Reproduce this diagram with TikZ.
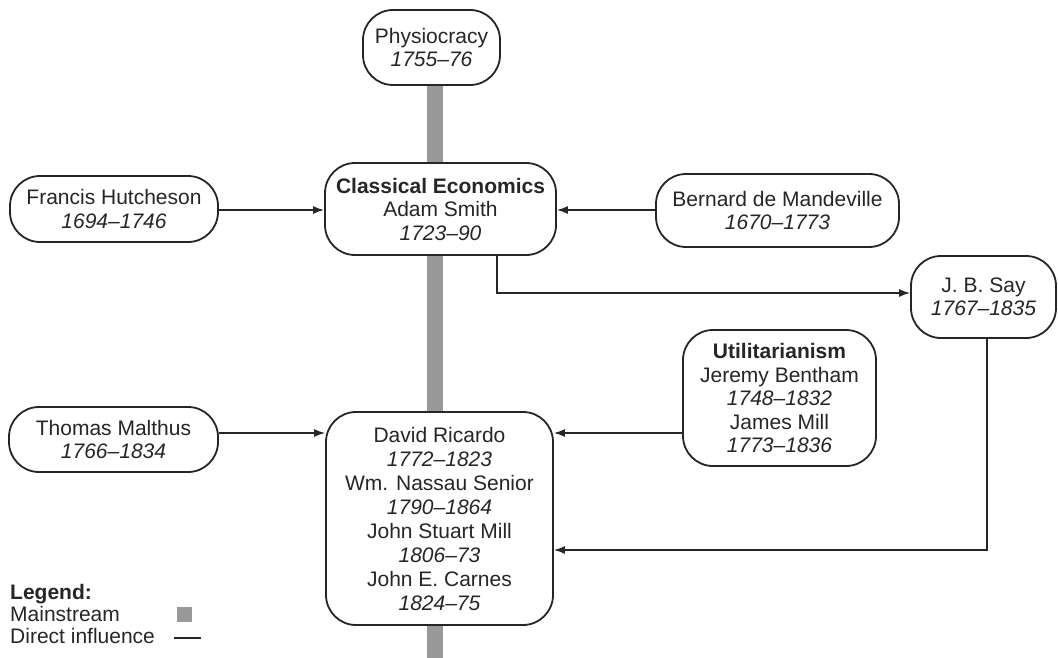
\documentclass[tikz,border=0pt]{standalone}
\usepackage{fontspec}
\setmainfont{Liberation Sans}
\usetikzlibrary{arrows.meta}
\begin{document}
\begin{tikzpicture}[x=1pt,y=-1pt,
  every node/.style={font=\fontsize{21}{23.5}\selectfont, text=black!85},
  era/.style={draw=black!85, line width=1.8pt, rounded corners=30pt, fill=white,
              align=center, inner sep=0pt},
  link/.style={draw=black!85, line width=1.5pt, -{Latex[length=11pt,width=8pt]}},
  plainlink/.style={draw=black!85, line width=1.5pt},
  mainstream/.style={fill=black!40},
  legendtext/.style={anchor=base west, inner sep=0pt, font=\fontsize{21}{22}\selectfont}]
\useasboundingbox (0,0) rectangle (1058,658);

% mainstream line running behind the central boxes
\fill[mainstream] (427,85) rectangle (443,658);

% schools and economists
\node[era, minimum width=137pt, minimum height=75pt] (phys) at (431.5,47.5)
  {Physiocracy\\\textit{1755--76}};
\node[era, minimum width=208pt, minimum height=66pt] (hutch) at (114,209)
  {Francis Hutcheson\\\textit{1694--1746}};
\node[era, minimum width=231pt, minimum height=92pt] (classical) at (440.5,209)
  {\textbf{Classical Economics}\\Adam Smith\\\textit{1723--90}};
\node[era, minimum width=243pt, minimum height=73pt] (mand) at (777.5,210.5)
  {Bernard de Mandeville\\\textit{1670--1773}};
\node[era, minimum width=145pt, minimum height=82pt] (say) at (983.5,297)
  {J. B. Say\\\textit{1767--1835}};
\node[era, minimum width=193pt, minimum height=136pt] (util) at (779.5,398)
  {\textbf{Utilitarianism}\\Jeremy Bentham\\\textit{1748--1832}\\James Mill\\\textit{1773--1836}};
\node[era, minimum width=209pt, minimum height=65pt] (malthus) at (113.5,439.5)
  {Thomas Malthus\\\textit{1766--1834}};
\node[era, minimum width=227pt, minimum height=213pt, font=\fontsize{21}{24}\selectfont] (ricardo) at (439.5,518.5)
  {David Ricardo\\\textit{1772--1823}\\Wm. Nassau Senior\\\textit{1790--1864}\\John Stuart Mill\\\textit{1806--73}\\John E. Carnes\\\textit{1824--75}};

% levels of the influence lines
\coordinate (yTop) at (0,210);
\coordinate (yMid) at (0,433);
\coordinate (ySay) at (0,550);
\coordinate (yToSay) at (0,293);
\coordinate (xFromSmith) at (497,0);

% direct influences
\draw[link] (hutch.east |- yTop) -- (classical.west |- yTop);
\draw[link] (mand.west |- yTop) -- (classical.east |- yTop);
\draw[link] (xFromSmith |- classical.south) |- (say.west |- yToSay);
\draw[link] (malthus.east |- yMid) -- (ricardo.west |- yMid);
\draw[link] (util.west |- yMid) -- (ricardo.east |- yMid);
\draw[link] ([xshift=3.5pt]say.south) |- (ricardo.east |- ySay);

% legend
\node[legendtext, font=\fontsize{21}{22}\selectfont\bfseries] (legend) at (10,599) {Legend:};
\node[legendtext] (lmain) at (10,621) {Mainstream};
\node[legendtext] (ldirect) at (10,643) {Direct influence};
\node[mainstream, minimum size=15pt, inner sep=0pt] (lsquare) at (184,614.5) {};
\coordinate (lineA) at (174,638);
\coordinate (lineB) at (201,638);
\draw[plainlink] (lineA) -- (lineB);
\end{tikzpicture}
\end{document}
